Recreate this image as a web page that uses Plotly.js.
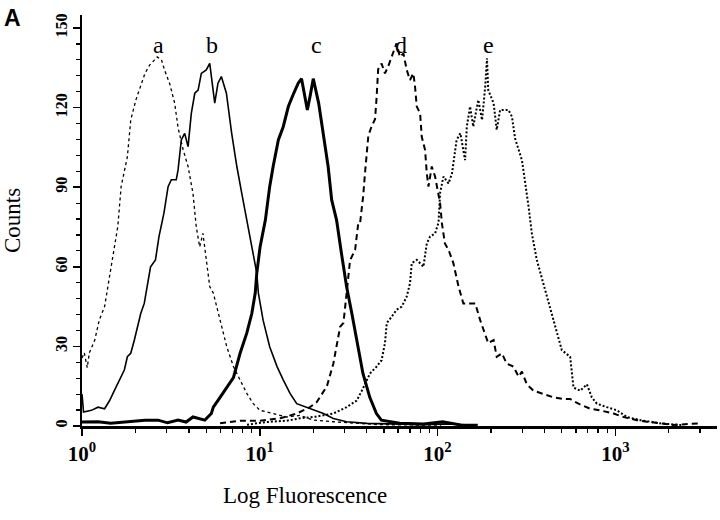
<!DOCTYPE html>
<html>
<head>
<meta charset="utf-8">
<script src="https://cdn.plot.ly/plotly-3.0.1.min.js"></script>
<style>
  html, body { margin: 0; padding: 0; background: #fff; }
  #chart { width: 720px; height: 520px; }
</style>
</head>
<body>
<div id="chart"></div>
<script>
// Fluorescence (linear units, shown on a log axis) and counts
const aX = [1.00, 1.03, 1.07, 1.10, 1.18, 1.25, 1.34, 1.40, 1.46, 1.52, 1.59, 1.66, 1.73, 1.80, 1.88, 2.01, 2.26, 2.40, 2.56, 2.65, 2.80, 2.92, 3.12, 3.32, 3.47, 3.70, 3.95, 4.21, 4.39, 4.59, 4.79, 5.00, 5.23, 5.48, 5.98, 6.52, 7.11, 7.75, 8.45, 9.19, 10.04, 11.89, 14.17, 16.86, 19.99, 25.8, 47.4, 104.8];
const aY = [25.6, 27.6, 22, 27.6, 32.4, 39.9, 45, 52.6, 60, 67.5, 75.2, 90.2, 96.5, 101.5, 115.3, 122.9, 132.9, 136, 138, 139.1, 138, 134, 128.8, 121.7, 112.5, 104.3, 97.8, 87.7, 75.2, 67.5, 72.6, 62.4, 52.6, 50.1, 39.9, 29.9, 22.4, 17.4, 12.3, 8.4, 5.9, 4.7, 3.4, 4, 2.2, 1.6, 0.5, 0.3];

const bX = [1.00, 1.02, 1.13, 1.23, 1.34, 1.43, 1.52, 1.62, 1.73, 1.80, 1.88, 1.97, 2.05, 2.14, 2.24, 2.33, 2.43, 2.59, 2.71, 2.89, 3.05, 3.18, 3.39, 3.47, 3.62, 3.78, 3.95, 4.12, 4.31, 4.50, 4.69, 5.00, 5.23, 5.58, 5.82, 6.08, 6.49, 6.95, 7.43, 7.92, 8.45, 9.02, 9.62, 9.82, 10.44, 11.37, 12.51, 13.55, 14.8, 16.14, 19.14, 22.8, 25.93, 30.8, 40.1, 62.3, 83.6, 115.3, 157.6];
const bY = [12, 5.3, 5.9, 7.1, 6.5, 9.6, 13.3, 17.4, 21.1, 26.1, 27.4, 32.4, 37.4, 42.4, 46.2, 53.8, 60, 62.6, 71.4, 80.2, 90.2, 92.8, 92.8, 96.5, 107.8, 110.3, 105.3, 117.8, 125.4, 126.6, 132.9, 134.2, 136.7, 121.7, 129.2, 131.7, 125.4, 110.3, 97.8, 87.7, 77.6, 67.5, 57.6, 50.1, 39.9, 29.9, 22.4, 17.4, 12.3, 8.4, 6.5, 4.7, 2.8, 1.6, 1, 0.8, 0.5, 0.8, 0.3];

const cX = [1.00, 1.23, 1.45, 1.81, 2.26, 2.68, 3.03, 3.47, 3.85, 4.21, 4.91, 5.34, 5.48, 5.98, 6.52, 7.11, 7.75, 8.45, 9.02, 9.43, 9.62, 10.04, 10.75, 10.96, 11.37, 11.89, 12.72, 13.55, 14.48, 15.52, 16.45, 17.18, 17.90, 18.52, 19.25, 19.99, 21.44, 22.79, 24.24, 25.38, 27.04, 28.80, 30.78, 32.96, 35.04, 38.05, 41.58, 45.32, 48.34, 61.26, 83.6, 106.9, 134.4, 168.4];
const cY = [1.5, 1.6, 1.0, 1.5, 2.2, 2.2, 1.2, 2.2, 1.5, 3.4, 2.2, 4.7, 7.1, 10.8, 14.5, 18.2, 27.4, 35, 42.4, 50.1, 57.6, 67.5, 77.6, 82.6, 90.2, 97.8, 107.8, 112.8, 120.4, 125.4, 129.2, 130.9, 124.8, 119.1, 124.8, 130.9, 121.7, 110.3, 97.8, 85.2, 77.6, 65.1, 52.6, 42.4, 32.4, 19.8, 10.8, 4.7, 2.2, 1, 0.8, 1.6, 0.4, 0.3];

const dX = [5.98, 7.75, 10.04, 13.03, 16.14, 19.14, 20.92, 23.86, 25.93, 28.32, 29.57, 30.81, 32.2, 34.4, 35.85, 36.7, 38.2, 39.05, 40.8, 42.6, 44.5, 45.4, 46.35, 48.45, 50.6, 52.7, 55.1, 58.8, 61.4, 64.3, 67.1, 70.0, 73.1, 74.7, 76.4, 79.8, 81.5, 85.1, 87.0, 88.9, 92.8, 96.9, 103.4, 105.8, 110, 115.3, 122.7, 131.2, 139.7, 152.4, 163, 173.7, 181.1, 192.8, 206.7, 215.2, 230.1, 245.1, 267.5, 285.6, 298.4, 317.7, 346.6, 393.9, 449.6, 511, 557, 620.6, 721.6, 821.9, 977.5, 1112, 1322, 1505, 1787, 2124, 2994];
const dY = [1, 2, 2, 2.9, 4.7, 7.1, 9, 15, 23.5, 37.4, 38.9, 49.1, 62.4, 66.5, 76.7, 76.7, 86.9, 95.1, 109.4, 113, 115.6, 123.7, 134.5, 136.6, 132.9, 135.4, 139.1, 144.2, 139.1, 140.4, 134.2, 130.4, 132.9, 127.9, 120.4, 117.8, 109, 104, 95.2, 90.2, 97.8, 94, 83.9, 76.4, 68.8, 66.4, 61.4, 52.6, 46.2, 46.2, 46.2, 39.9, 36.2, 31.2, 32.4, 26.1, 27.4, 23.5, 22.4, 18.6, 20.5, 15.7, 13.3, 12, 10.8, 10.2, 10.2, 8.4, 6.5, 5.9, 4.7, 3.4, 2.2, 1.6, 1, 0.4, 1];

const eX = [8.48, 10.96, 14.17, 16.86, 20.61, 25.93, 30.81, 35.1, 37.5, 41.7, 45.4, 48.45, 50.6, 51.8, 55.1, 58.8, 62.9, 67.1, 70.0, 71.6, 76.5, 83.3, 87.0, 90.8, 96.9, 101.3, 103.4, 108, 115.3, 120.6, 128, 134.4, 142.9, 146.1, 152.4, 158.8, 169.5, 178, 185.4, 189.7, 192.8, 206.7, 215.2, 224.8, 250.4, 262.2, 272.9, 298.4, 325.2, 339.2, 361.7, 393.9, 430, 468.7, 500, 557, 581.8, 634.7, 691.9, 737.4, 787.3, 896.6, 1022, 1162, 1381, 1571, 1788, 2412];
const eY = [0.5, 1.5, 2, 2.9, 3.5, 4.7, 7.1, 9.6, 13.3, 19.8, 22.4, 24.8, 31.2, 38.8, 41.1, 43.8, 45, 48.8, 53.8, 61.4, 62.6, 60, 68.8, 71.4, 72.6, 76.7, 87.9, 94, 91.4, 95.2, 107.8, 110.3, 100.2, 112.8, 120.4, 112.8, 122.9, 115.3, 127.9, 138.6, 126.6, 121.7, 111.6, 119.1, 119.1, 116.6, 108.4, 100.2, 82.6, 72.6, 62.6, 53.8, 43.8, 35, 28.6, 26.1, 14.5, 13.3, 15.7, 10.8, 8.4, 7.1, 5.9, 3.4, 2.2, 1.6, 1.0, 0.3];

const curveNames = ['a', 'b', 'c', 'd', 'e'];
const xTickVals = [1, 10, 100, 1000];
const xTickText = ['10<sup>0</sup>', '10<sup>1</sup>', '10<sup>2</sup>', '10<sup>3</sup>'];
const xMinorVals = [2, 3, 4, 5, 6, 7, 8, 9, 20, 30, 40, 50, 60, 70, 80, 90,
                    200, 300, 400, 500, 600, 700, 800, 900, 2000, 3000];
const yTickVals = [0, 30, 60, 90, 120, 150];
const yTickText = ['<b>0</b>', '<b>30</b>', '<b>60</b>', '<b>90</b>', '<b>120</b>', '<b>150</b>'];

const serif = 'Liberation Serif, Times New Roman, serif';

function histTrace(x, y, name, width, dash) {
  return {
    x: x, y: y, name: name,
    type: 'scatter', mode: 'lines',
    line: { color: '#000', width: width, dash: dash },
    hoverinfo: 'skip'
  };
}

const data = [
  histTrace(aX, aY, curveNames[0], 1.3, 'dot'),
  histTrace(bX, bY, curveNames[1], 1.6, 'solid'),
  histTrace(cX, cY, curveNames[2], 3, 'solid'),
  histTrace(dX, dY, curveNames[3], 2, '6px,4px'),
  histTrace(eX, eY, curveNames[4], 2, '2px,2px')
];

// label positions above each peak (log10 units, counts)
const labelPos = [[0.428, 143.6], [0.732, 143.6], [1.317, 143.6], [1.795, 143.6], [2.285, 143.6]];
const annotations = curveNames.map((t, i) => ({
  text: t, x: labelPos[i][0], y: labelPos[i][1], xref: 'x', yref: 'y',
  showarrow: false, font: { family: serif, size: 24, color: '#000' }
}));
annotations.push({
  text: 'Log Fluorescence', xref: 'paper', yref: 'paper', x: 0.351, y: -0.170,
  xanchor: 'center', yanchor: 'middle',
  showarrow: false, font: { family: serif, size: 23, color: '#000' }
});
annotations.push({
  text: '<b>A</b>', xref: 'paper', yref: 'paper', x: -0.110, y: 0.993,
  xanchor: 'center', yanchor: 'middle',
  showarrow: false, font: { family: 'Liberation Sans, Arial, sans-serif', size: 23, color: '#000' }
});

const layout = {
  width: 720, height: 520,
  margin: { l: 82, r: 3, t: 15, b: 94 },
  paper_bgcolor: '#fff', plot_bgcolor: '#fff',
  showlegend: false,
  xaxis: {
    type: 'log',
    range: [0, 3.572],
    showgrid: false, zeroline: false,
    showline: true, linecolor: '#000', linewidth: 3,
    ticks: 'outside', ticklen: 7, tickwidth: 1.5, tickcolor: '#000',
    tickmode: 'array', tickvals: xTickVals, ticktext: xTickText,
    tickfont: { family: serif, size: 21, color: '#000', weight: 'bold' },
    minor: { ticks: 'outside', ticklen: 4, tickwidth: 1.3, tickcolor: '#000',
             tickmode: 'array', tickvals: xMinorVals, showgrid: false }
  },
  yaxis: {
    range: [0, 154.9],
    showgrid: false, zeroline: false,
    showline: true, linecolor: '#000', linewidth: 2,
    ticks: 'outside', ticklen: 7, tickwidth: 1.5, tickcolor: '#000',
    tickmode: 'array', tickvals: yTickVals, ticktext: yTickText,
    tickangle: -90,
    tickfont: { family: serif, size: 16, color: '#000' },
    minor: { ticks: 'outside', ticklen: 4, tickwidth: 1.2, tickcolor: '#000', dtick: 6, showgrid: false },
    title: { text: 'Counts', standoff: 26, font: { family: serif, size: 23, color: '#000' } }
  },
  annotations: annotations
};

Plotly.newPlot('chart', data, layout, { displayModeBar: false, staticPlot: true });
</script>
</body>
</html>
